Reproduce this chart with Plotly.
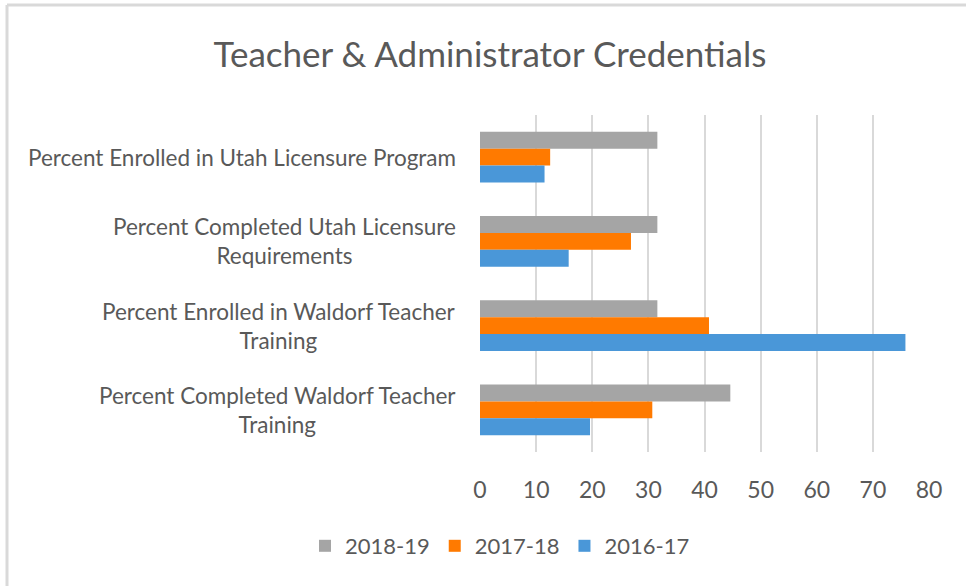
import plotly.graph_objects as go

categories = [
    "Percent Enrolled in Utah Licensure Program",
    "Percent Completed Utah Licensure<br>Requirements",
    "Percent Enrolled in Waldorf Teacher<br>Training",
    "Percent Completed Waldorf Teacher<br>Training",
]
series_names = ["2018-19", "2017-18", "2016-17"]
values_2018_19 = [31.6, 31.6, 31.6, 44.6]
values_2017_18 = [12.5, 26.9, 40.8, 30.7]
values_2016_17 = [11.5, 15.8, 75.8, 19.6]
colors = ["#A5A5A5", "#FF7A00", "#4A97D8"]
x_ticks = [0, 10, 20, 30, 40, 50, 60, 70, 80]

W, H = 966, 586
L, R, T, B = 480, 929, 115, 452
FONT = "Lato"
TXT = "#595959"

def px_x(p):
    return (p - L) / (R - L)

def px_y(p):
    return (B - p) / (B - T)

fig = go.Figure()
for name, vals, col in zip(series_names, [values_2018_19, values_2017_18, values_2016_17], colors):
    fig.add_trace(go.Bar(
        y=categories, x=vals, name=name, orientation="h",
        marker=dict(color=col, line=dict(width=0)),
    ))

for cat in categories:
    fig.add_annotation(
        x=px_x(458), xref="paper", y=cat, yref="y",
        text=cat, showarrow=False, xanchor="right", align="center",
        font=dict(family=FONT, size=22.5, color=TXT),
    )

# chart frame (light grey border of the original picture)
fig.add_shape(type="line", xref="paper", yref="paper",
              x0=px_x(7), x1=px_x(7), y0=px_y(5), y1=px_y(600),
              line=dict(color="#D9D9D9", width=3), layer="below")
fig.add_shape(type="line", xref="paper", yref="paper",
              x0=px_x(7), x1=px_x(980), y0=px_y(5), y1=px_y(5),
              line=dict(color="#D9D9D9", width=3), layer="below")

fig.update_layout(
    width=W, height=H,
    margin=dict(l=L, r=W - R, t=T, b=H - B, autoexpand=False),
    paper_bgcolor="white", plot_bgcolor="white",
    barmode="group", bargap=0.4, bargroupgap=0,
    title=dict(text="Teacher & Administrator Credentials",
               x=490 / W, xref="container", xanchor="center",
               y=1 - 55 / H, yref="container", yanchor="middle",
               font=dict(family=FONT, size=35, color=TXT)),
    xaxis=dict(range=[0, 80], tickvals=x_ticks, ticktext=[str(v) for v in x_ticks],
               showgrid=True, gridcolor="#D9D9D9", gridwidth=1.5,
               zeroline=False, showline=False, ticks="",
               ticklabelstandoff=22,
               tickfont=dict(family=FONT, size=23, color=TXT), fixedrange=True),
    yaxis=dict(autorange="reversed", showticklabels=False, showgrid=False,
               zeroline=False, showline=False, ticks=""),
    legend=dict(orientation="h", x=px_x(500), xanchor="center",
                y=px_y(546), yanchor="middle",
                font=dict(family=FONT, size=22, color=TXT),
                itemwidth=30, traceorder="normal"),
    showlegend=True,
)

fig.write_html("out.html", config={"displayModeBar": False},
               post_script="document.body.style.margin='0';document.body.style.overflow='hidden';")
